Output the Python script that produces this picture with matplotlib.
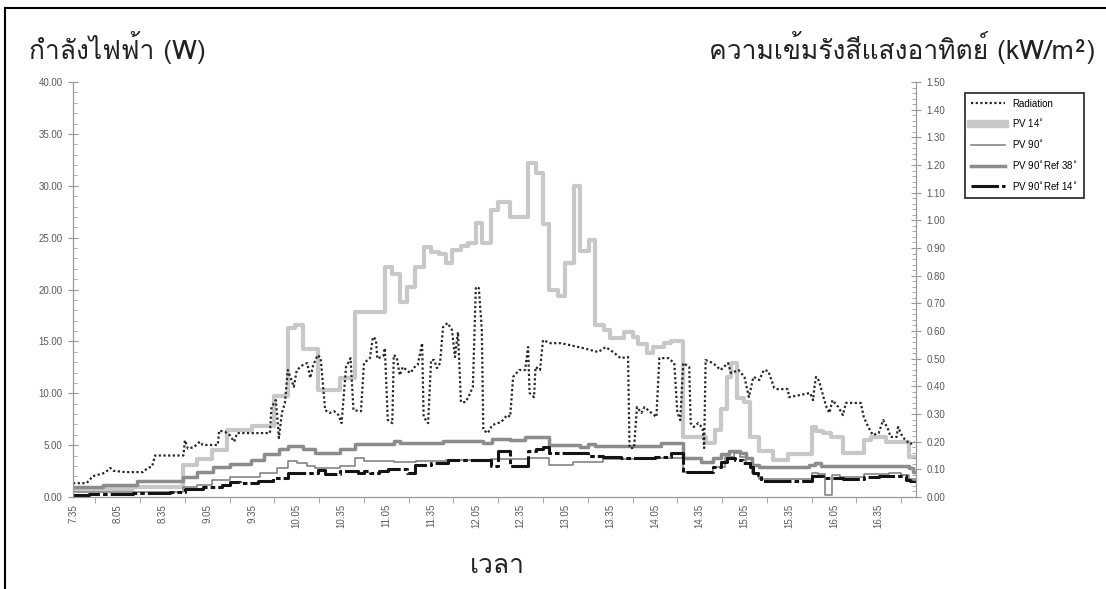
import matplotlib
matplotlib.use('Agg')
import matplotlib.pyplot as plt
from matplotlib import font_manager, ft2font
from matplotlib.lines import Line2D
from matplotlib.ticker import MultipleLocator, FormatStrFormatter, FixedLocator


#%% data (times as H.MM)

pv14_t = ["7.35", "8.15", "8.49", "8.58", "9.08", "9.18", "9.35", "9.50", "9.59", "10.04",
          "10.09", "10.19", "10.34", "10.44", "11.04", "11.09", "11.14", "11.19", "11.24", "11.30",
          "11.35", "11.40", "11.45", "11.49", "11.55", "12.00", "12.05", "12.09", "12.15", "12.20",
          "12.28", "12.40", "12.45", "12.50", "12.54", "13.00", "13.05", "13.11", "13.15", "13.21",
          "13.25", "13.31", "13.35", "13.44", "13.50", "13.54", "14.00", "14.04", "14.11", "14.16",
          "14.24", "14.39", "14.45", "14.49", "14.53", "14.56", "15.00", "15.05", "15.09", "15.15",
          "15.24", "15.34", "15.50", "15.53", "15.58", "16.03", "16.11", "16.25", "16.30", "16.40",
          "16.55", "17.00"]
pv14_w = [0.8, 1.0, 3.1, 3.7, 4.5, 6.5, 6.8, 9.7, 16.3, 16.6,
          14.3, 10.3, 11.5, 17.8, 22.2, 21.5, 18.8, 20.2, 22.2, 24.1,
          23.6, 23.4, 22.6, 23.8, 24.2, 24.5, 26.4, 24.5, 27.7, 28.4,
          27.0, 32.2, 31.2, 26.3, 20.0, 19.4, 22.6, 30.0, 23.7, 24.8,
          16.6, 16.1, 15.3, 15.9, 15.4, 14.7, 13.9, 14.5, 14.8, 15.0,
          5.8, 5.2, 6.5, 8.5, 11.6, 12.9, 9.5, 9.2, 5.8, 4.4,
          3.6, 4.1, 6.7, 6.4, 6.2, 5.8, 4.2, 5.5, 5.8, 5.3,
          3.9, 3.9]

pv90_t = ["7.35", "8.15", "8.49", "8.58", "9.08", "9.20", "9.40", "9.52", "9.59", "10.05",
          "10.12", "10.17", "10.34", "10.44", "10.50", "11.10", "11.25", "11.45", "12.15", "12.40",
          "12.54", "13.10", "13.30", "14.00", "14.24", "14.44", "14.52", "14.58", "15.02", "15.06",
          "15.10", "15.15", "15.50", "15.54", "15.59", "16.04", "16.09", "16.25", "16.42", "16.50",
          "16.55", "17.00"]
pv90_w = [0.45, 0.5, 1.0, 1.15, 1.6, 1.9, 2.3, 2.8, 3.5, 3.3,
          3.0, 2.8, 3.0, 3.8, 3.5, 3.4, 3.5, 3.6, 3.7, 3.8,
          3.1, 3.4, 3.7, 3.8, 2.4, 2.9, 3.9, 4.2, 3.9, 3.3,
          2.3, 1.7, 2.3, 2.2, 0.2, 2.1, 1.9, 2.2, 2.3, 2.1,
          1.7, 1.7]

ref38_t = ["7.35", "7.55", "8.18", "8.49", "8.58", "9.09", "9.20", "9.34", "9.43", "9.53",
           "9.59", "10.09", "10.17", "10.34", "10.44", "11.10", "11.14", "11.43", "12.10", "12.16",
           "12.28", "12.38", "12.54", "13.15", "13.20", "13.25", "14.09", "14.24", "14.36", "14.44",
           "14.49", "14.55", "15.02", "15.06", "15.10", "15.15", "15.48", "15.52", "15.56", "16.55",
           "16.58", "17.00"]
ref38_w = [1.0, 1.2, 1.5, 1.9, 2.4, 2.9, 3.2, 3.6, 4.1, 4.6,
           4.9, 4.6, 4.2, 4.6, 5.1, 5.4, 5.2, 5.4, 5.2, 5.6,
           5.5, 5.8, 5.0, 4.8, 5.1, 4.9, 5.2, 3.8, 3.4, 3.8,
           4.1, 4.4, 4.2, 3.8, 3.1, 2.9, 3.1, 3.3, 3.0, 2.8,
           2.4, 2.4]

ref14_t = ["7.35", "7.46", "8.15", "8.40", "8.50", "9.02", "9.15", "9.20", "9.27", "9.39",
           "9.49", "9.59", "10.19", "10.24", "10.34", "10.46", "10.50", "10.54", "11.00", "11.06",
           "11.19", "11.24", "11.35", "11.46", "12.15", "12.20", "12.28", "12.40", "12.45", "12.50",
           "12.54", "13.20", "13.30", "13.42", "14.05", "14.16", "14.24", "14.39", "14.44", "14.49",
           "14.53", "14.59", "15.04", "15.09", "15.11", "15.14", "15.16", "15.50", "15.58", "16.11",
           "16.25", "16.35", "16.50", "16.53", "16.56", "17.00"]
ref14_w = [0.15, 0.25, 0.4, 0.5, 0.75, 0.95, 1.2, 1.4, 1.35, 1.5,
           1.8, 2.3, 2.6, 2.2, 2.5, 2.3, 2.5, 2.3, 2.5, 2.7,
           2.3, 3.1, 3.3, 3.6, 3.0, 4.4, 3.0, 4.4, 4.6, 4.8,
           4.2, 4.0, 3.9, 3.8, 3.9, 4.2, 2.4, 2.4, 2.9, 3.4,
           3.8, 3.6, 3.3, 2.9, 2.3, 2.1, 1.5, 2.0, 1.8, 1.7,
           1.9, 2.0, 2.0, 1.6, 1.5, 1.5]

# radiation, kW/m2 (right axis)
rad_t = ["7.35", "7.44", "7.46", "7.48", "7.55", "7.58", "8.00", "8.02", "8.10", "8.22",
         "8.25", "8.28", "8.30", "8.49", "8.50", "8.52", "8.56", "9.00", "9.02", "9.12",
         "9.13", "9.17", "9.20", "9.23", "9.25", "9.47", "9.48", "9.51", "9.53", "9.55",
         "9.57", "9.59", "10.03", "10.05", "10.09", "10.12", "10.14", "10.16", "10.19", "10.21",
         "10.24", "10.27", "10.30", "10.33", "10.35", "10.38", "10.41", "10.43", "10.48", "10.50",
         "10.54", "10.56", "10.58", "10.59", "11.03", "11.04", "11.06", "11.09", "11.10", "11.12",
         "11.14", "11.16", "11.21", "11.24", "11.26", "11.28", "11.29", "11.30", "11.33", "11.35",
         "11.37", "11.39", "11.41", "11.43", "11.46", "11.49", "11.51", "11.53", "11.55", "11.58",
         "12.00", "12.03", "12.05", "12.07", "12.09", "12.10", "12.13", "12.16", "12.22", "12.26",
         "12.28", "12.30", "12.34", "12.38", "12.40", "12.41", "12.44", "12.45", "12.48", "12.50",
         "12.55", "13.02", "13.08", "13.17", "13.22", "13.27", "13.32", "13.37", "13.42", "13.47",
         "13.48", "13.51", "13.53", "13.56", "13.58", "14.02", "14.06", "14.08", "14.14", "14.18",
         "14.20", "14.22", "14.24", "14.28", "14.29", "14.31", "14.34", "14.37", "14.38", "14.39",
         "14.44", "14.49", "14.54", "14.56", "15.01", "15.05", "15.08", "15.11", "15.15", "15.18",
         "15.21", "15.25", "15.27", "15.34", "15.35", "15.49", "15.51", "15.52", "15.53", "15.55",
         "15.58", "16.00", "16.02", "16.04", "16.08", "16.11", "16.13", "16.23", "16.25", "16.28",
         "16.31", "16.35", "16.38", "16.41", "16.43", "16.47", "16.48", "16.51", "16.53", "16.56",
         "16.59"]
rad_v = [0.05, 0.05, 0.06, 0.075, 0.085, 0.095, 0.105, 0.095, 0.09, 0.09,
         0.105, 0.11, 0.15, 0.15, 0.205, 0.175, 0.18, 0.20, 0.188, 0.188,
         0.24, 0.235, 0.224, 0.20, 0.231, 0.231, 0.325, 0.35, 0.213, 0.304,
         0.34, 0.459, 0.398, 0.459, 0.477, 0.484, 0.43, 0.477, 0.513, 0.502,
         0.314, 0.304, 0.31, 0.296, 0.267, 0.47, 0.502, 0.314, 0.31, 0.484,
         0.502, 0.578, 0.57, 0.50, 0.51, 0.538, 0.278, 0.267, 0.513, 0.505,
         0.44, 0.47, 0.448, 0.47, 0.477, 0.531, 0.556, 0.289, 0.267, 0.495,
         0.495, 0.466, 0.484, 0.614, 0.629, 0.604, 0.506, 0.596, 0.343, 0.343,
         0.361, 0.398, 0.759, 0.755, 0.604, 0.242, 0.231, 0.26, 0.271, 0.296,
         0.29, 0.434, 0.459, 0.459, 0.542, 0.376, 0.361, 0.47, 0.459, 0.567,
         0.556, 0.556, 0.549, 0.538, 0.531, 0.524, 0.542, 0.524, 0.502, 0.506,
         0.177, 0.177, 0.325, 0.304, 0.325, 0.307, 0.289, 0.502, 0.502, 0.484,
         0.307, 0.278, 0.484, 0.47, 0.267, 0.253, 0.267, 0.249, 0.177, 0.495,
         0.484, 0.459, 0.484, 0.448, 0.459, 0.434, 0.361, 0.434, 0.423, 0.459,
         0.455, 0.394, 0.39, 0.39, 0.361, 0.376, 0.35, 0.40, 0.434, 0.42,
         0.361, 0.325, 0.304, 0.35, 0.325, 0.296, 0.34, 0.34, 0.289, 0.253,
         0.224, 0.231, 0.278, 0.249, 0.217, 0.217, 0.253, 0.217, 0.206, 0.191,
         0.20]

xtick_labels = ["7.35", "8.05", "8.35", "9.05", "9.35", "10.05", "10.35", "11.05", "11.35", "12.05",
                "12.35", "13.05", "13.35", "14.05", "14.35", "15.05", "15.35", "16.05", "16.35"]

legend_labels = ["Radiation", r"PV 14$^{\circ}$", r"PV 90$^{\circ}$",
                 r"PV 90$^{\circ}$Ref 38$^{\circ}$", r"PV 90$^{\circ}$Ref 14$^{\circ}$"]


#%%

def to_min(s):
    h, m = s.split('.')
    return int(h) * 60 + int(m)


def find_thai_font():
    # first installed family that has Thai glyphs
    for f in font_manager.fontManager.ttflist:
        try:
            if 0x0E01 in ft2font.FT2Font(f.fname).get_charmap():
                return f.name
        except Exception:
            pass
    return 'DejaVu Sans'


thai = find_thai_font()
plt.rcParams['font.family'] = ['Liberation Sans', 'DejaVu Sans']

grey_txt = '#595959'
grey_ax = '#9a9a9a'

f = plt.figure(figsize=(11.06, 5.89), dpi=100)
ax = f.add_axes([73 / 1106, 1 - 497 / 589, (916 - 73) / 1106, (497 - 82) / 589])
ax2 = ax.twinx()

l14, = ax.plot([to_min(t) for t in pv14_t], pv14_w, drawstyle='steps-post', color='#c8c8c8', lw=3, zorder=1)
l90, = ax.plot([to_min(t) for t in pv90_t], pv90_w, drawstyle='steps-post', color='#7a7a7a', lw=1.1, zorder=2)
l38, = ax.plot([to_min(t) for t in ref38_t], ref38_w, drawstyle='steps-post', color='#8c8c8c', lw=2.5, zorder=3)
lr14, = ax.plot([to_min(t) for t in ref14_t], ref14_w, drawstyle='steps-post', color='#141414', lw=2.2,
                ls=(0, (9, 1, 1.5, 1)), zorder=4)
lrad, = ax2.plot([to_min(t) for t in rad_t], rad_v, color='#262626', lw=1.6, ls=(0, (1, 1.1)))

ax.set_xlim(to_min("7.35"), to_min("17.00"))
ax.set_ylim(0, 40)
ax2.set_ylim(0, 1.5)

# x axis: labels every 30 min, tick marks half way between
ax.xaxis.set_major_locator(FixedLocator([to_min(t) for t in xtick_labels]))
ax.set_xticklabels(xtick_labels, rotation=90, fontsize=7, color=grey_txt)
ax.xaxis.set_minor_locator(FixedLocator([to_min(t) + 15 for t in xtick_labels]))
ax.tick_params(axis='x', which='major', length=0, pad=5)
ax.tick_params(axis='x', which='minor', length=4, color=grey_ax, direction='out')

ax.yaxis.set_major_locator(MultipleLocator(5))
ax.yaxis.set_minor_locator(MultipleLocator(1))
ax.yaxis.set_major_formatter(FormatStrFormatter('%.2f'))
ax2.yaxis.set_major_locator(MultipleLocator(0.1))
ax2.yaxis.set_minor_locator(MultipleLocator(0.02))
ax2.yaxis.set_major_formatter(FormatStrFormatter('%.2f'))
for a in (ax, ax2):
    a.tick_params(axis='y', which='major', length=7, direction='inout', color=grey_ax,
                  labelsize=7, labelcolor=grey_txt, pad=4)
    a.tick_params(axis='y', which='minor', length=3, direction='in', color=grey_ax)
    a.spines['top'].set_visible(False)
    for s in ('left', 'right', 'bottom'):
        a.spines[s].set_color(grey_ax)

# titles
f.text(29 / 1106, 1 - 47 / 589, "กำลังไฟฟ้า (W)", fontsize=19, va='center', ha='left',
       family=[thai, 'DejaVu Sans'], color='#222222')
f.text(1095 / 1106, 1 - 47 / 589, "ความเข้มรังสีแสงอาทิตย์ (kW/m²)", fontsize=19, va='center',
       ha='right', family=[thai, 'DejaVu Sans'], color='#222222')
f.text(497 / 1106, 1 - 566 / 589, "เวลา", fontsize=19, va='center', ha='center',
       family=[thai, 'DejaVu Sans'], color='#222222')

leg = f.legend([lrad, l14, l90, l38, lr14], legend_labels, loc='upper left',
               bbox_to_anchor=(960 / 1106, 1 - 88 / 589), fontsize=7, frameon=True,
               fancybox=False, edgecolor='black', handlelength=3.5, borderpad=0.6,
               labelspacing=0.9)
leg.get_frame().set_linewidth(1.3)
leg.legend_handles[1].set_linewidth(6)

# outer frame (cropped in the original)
f.add_artist(Line2D([5 / 1106, 5 / 1106], [0, 1 - 8 / 589], color='black', lw=1.5))
f.add_artist(Line2D([5 / 1106, 1], [1 - 8 / 589, 1 - 8 / 589], color='black', lw=1.5))

f.savefig('out.png', dpi=100)
